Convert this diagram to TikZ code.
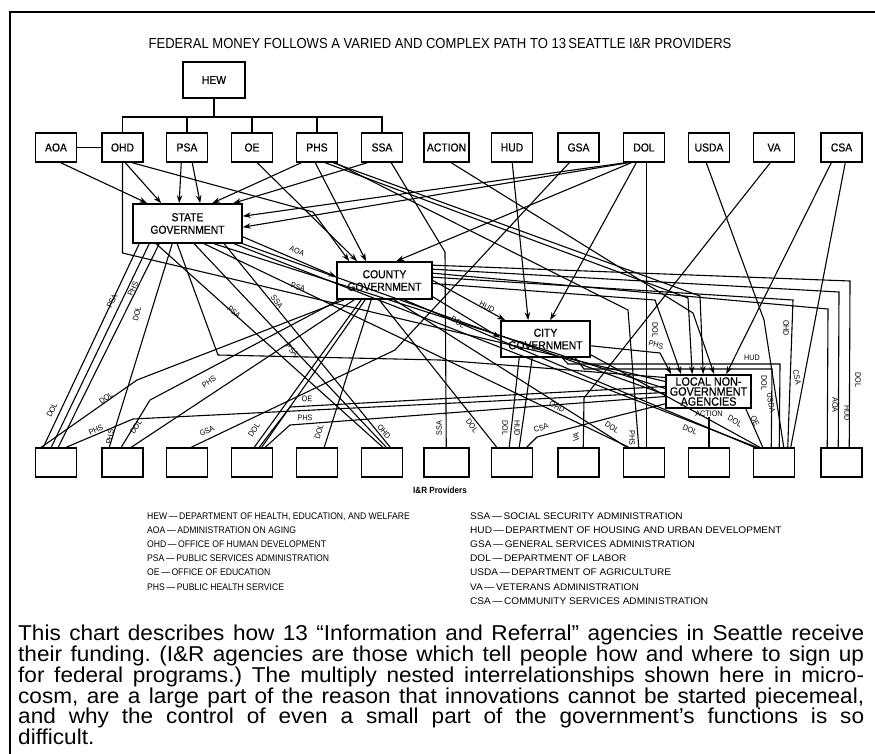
\documentclass[tikz,border=0pt]{standalone}
\usepackage{fontspec}
\setmainfont{Liberation Sans}
\newfontfamily\cf{Liberation Sans}[FakeStretch=0.9]
\newfontfamily\cfb{Liberation Sans}[FakeStretch=0.9,FakeBold=0.6]
\newfontfamily\cfw{Liberation Sans}[FakeStretch=1.05]
\newfontfamily\capf{Liberation Sans}[FakeStretch=1.05]
\usetikzlibrary{arrows.meta,calc}
\begin{document}
\begin{tikzpicture}[x=1pt,y=-1pt,
  box/.style={draw,line width=1.5pt,minimum width=41pt,minimum height=29pt,inner sep=0pt,font=\cfb\fontsize{11.5}{12}\selectfont},
  gov/.style={draw,line width=1.6pt,inner sep=0pt,align=center,font=\cfb\fontsize{11.5}{12.5}\selectfont},
  ln/.style={line width=1.1pt},
  ar/.style={ln,-{Stealth[length=8pt,width=5.5pt]}},
  lab/.style={inner sep=0pt,font=\cf\fontsize{8}{8}\selectfont},
  leg/.style={inner sep=0pt,anchor=base west,font=\cf\fontsize{9.6}{10}\selectfont},
  legr/.style={inner sep=0pt,anchor=base west,font=\cfw\fontsize{9.6}{10}\selectfont},
]
\useasboundingbox (0,0) rectangle (875,753);
\draw[line width=1.4pt] (10,760) -- (10,12) -- (880,12);
\node[font=\cf\fontsize{14.5}{16}\selectfont] (title) at (440,44) {FEDERAL MONEY FOLLOWS A VARIED AND COMPLEX PATH TO 13\,SEATTLE I\&R PROVIDERS};

% top row
\node[box,minimum width=62pt,minimum height=36pt] (hew) at (214,80) {HEW};
\node[box] (aoa) at (56,147.5) {AOA};
\node[box] (ohd) at (122.5,147.5) {OHD};
\node[box] (psa) at (187,147.5) {PSA};
\node[box] (oe) at (252,147.5) {OE};
\node[box] (phs) at (317,147.5) {PHS};
\node[box] (ssa) at (382,147.5) {SSA};
\node[box,minimum width=45pt] (action) at (446.5,147.5) {ACTION};
\node[box] (hud) at (512,147.5) {HUD};
\node[box] (gsa) at (578.5,147.5) {GSA};
\node[box] (dol) at (644,147.5) {DOL};
\node[box] (usda) at (709,147.5) {USDA};
\node[box] (va) at (774,147.5) {VA};
\node[box] (csa) at (841.5,147.5) {CSA};
% bottom row
\foreach \n/\x in {b1/56,b2/122.5,b3/187,b4/252,b5/317,b6/382,b8/512,b9/578.5,b10/644,b11/709,b12/774,b13/841.5}
  \node[box] (\n) at (\x,462.5) {};
\node[box,minimum width=45pt] (b7) at (446.5,462.5) {};
\node[font=\cf\bfseries\fontsize{9}{9}\selectfont] (irp) at (440,490) {I\&R Providers};

% governments
\node[gov,minimum width=109pt,minimum height=39pt] (st) at (187.5,223.5) {STATE\\GOVERNMENT};
\node[gov,minimum width=95pt,minimum height=37pt] (co) at (384.5,280.5) {COUNTY\\GOVERNMENT};
\node[gov,minimum width=89pt,minimum height=36pt] (ci) at (545.5,339) {CITY\\GOVERNMENT};
\node[gov,minimum width=85pt,minimum height=33pt,font=\cfb\fontsize{12}{10}\selectfont] (lng) at (708.5,391.5) {LOCAL NON-\\GOVERNMENT\\AGENCIES};

% HEW bus
\coordinate (bus) at (214,117);
\draw[ln] (hew.south) -- (bus);
\draw[ln] (ohd.north) |- (bus) -| (ssa.north);
\foreach \n in {psa,oe,phs} \draw[ln] (\n.north) -- (\n.north |- bus);
\draw[ln] (aoa.east) -- (ohd.west);

% arrows into State
\draw[ar] ([xshift=26]aoa.south west) -- ([xshift=15]st.north west);
\draw[ar] ([xshift=24]ohd.south west) -- ([xshift=29]st.north west);
\draw[ar] ([xshift=15.5]psa.south west) -- ([xshift=47]st.north west);
\draw[ar] ([xshift=26.5]psa.south west) -- ([xshift=68]st.north west);
\draw[ar] ([xshift=5.5]phs.south west) -- ([xshift=80]st.north west);
\draw[ar] ([xshift=6.5]ssa.south west) -- ([xshift=101]st.north west);
\draw[ar] ([xshift=2.5]dol.south west) -- ([yshift=-13]st.north east);
\draw[ar] ([xshift=5.5]dol.south west) -- ([yshift=-24]st.north east);

% arrows into County
\draw[ar] ([xshift=31]ohd.south west) -- (313,212) -- ([xshift=13]co.north west);
\draw[ar] ([xshift=26.5]oe.south west) -- ([xshift=21]co.north west);
\draw[ar] ([xshift=19.5]phs.south west) -- ([xshift=30]co.north west);
\draw[ar] ([xshift=8.5]dol.south west) -- ([xshift=60]co.north west);
\draw[ar] ([yshift=7]st.south east) -- ([yshift=23]co.south west);
\node[lab,rotate=-23] (l1) at (297,251) {AOA};

% arrows into City
\draw[ar] ([xshift=21.5]hud.south west) -- ([xshift=28]ci.north west);
\draw[ar] ([xshift=13.5]dol.south west) -- ([xshift=50]ci.north west);
\draw[ar] ([yshift=3]co.south east) -- ([yshift=20]ci.south west);
\draw[ar] (co.east) -- ([xshift=5]ci.north west);
\node[lab,rotate=-31] (l2) at (458,322) {DOL};
\node[lab,rotate=-27] (l3) at (487,307) {HUD};

% arrows into LNGA
\draw[ar] ([yshift=12]ci.south east) -- (660,353) -- ([xshift=6]lng.north west);
\node[lab,rotate=-15] (l4) at (656,345) {PHS};
\draw[ar] ([yshift=-3]co.east) -- (655,300) -- ([xshift=16]lng.north west);
\draw[ar] ([xshift=29.5]phs.south west) -- (688,298) -- ([xshift=27]lng.north west);
\draw[ar] ([xshift=37.5]phs.south west) -- (700,296) -- ([xshift=38]lng.north west);
\draw[ar] ([xshift=28]action.south west) -- (693,313) -- ([xshift=49]lng.north west);
\draw[ar] ([xshift=11]csa.south west) -- ([xshift=61]lng.north west);

% County to right-hand providers
\draw[ln] ([yshift=-4]co.north east) -- (850,281) -- ([xshift=29]b13.north west);
\draw[ln] ([yshift=-8]co.north east) -- (839,292) -- ([xshift=18]b13.north west);
\draw[ln] ([yshift=-12]co.north east) -- (828,309) -- ([xshift=7]b13.north west);
\draw[ln] ([yshift=-16]co.north east) -- (793,300) -- ([xshift=35]b12.north west);
\node[lab,rotate=-90] (l5) at (858,380) {DOL};
\node[lab,rotate=-90] (l6) at (847,413) {HUD};
\node[lab,rotate=-90] (l7) at (835,405) {AOA};
\node[lab,rotate=-90] (l8) at (786,328) {OHD};

% City to B12
\draw[ln] ([xshift=62]ci.south west) -- (568,364) -- (780,364) -- ([xshift=26.5]b12.north west);
\node[lab] (l9) at (752,358) {HUD};
\draw[ln] ([xshift=75]ci.south west) -- (584,369) -- (772,369) -- ([xshift=18.5]b12.north west);
\node[lab,rotate=-90] (l10) at (764,383) {DOL};
\draw[ln] ([yshift=3]ci.south east) -- ([xshift=7]b12.north west);
\node[lab,rotate=-29] (l11) at (735,421) {DOL};

% federal agencies direct to providers
\draw[ln] ([xshift=18.5]usda.south west) -- (764,320) -- ([xshift=31]b12.north west);
\node[lab,rotate=-80] (l12) at (771,403) {USDA};
\draw[ln] ([xshift=25]csa.south west) -- ([xshift=38]b12.north west);
\node[lab,rotate=-79] (l13) at (797,377) {CSA};
\draw[ln] ([xshift=17.5]va.south west) -- (584,398) -- ([xshift=26]b9.north west);
\node[lab,rotate=90] (l14) at (576,437) {VA};
\draw[ln] ([xshift=23.5]dol.south west) -- ([xshift=23.5]b10.north west);
\node[lab,rotate=-90] (l15) at (655,330) {DOL};
\draw[ln] ([xshift=12]gsa.south west) -- (395,350) -- ([xshift=25.5]b3.north west);
\node[lab,rotate=27] (l16) at (207,431) {GSA};
\draw[ln] ([xshift=30.5]ssa.south west) -- (445,252) -- ([xshift=23]b7.north west);
\node[lab,rotate=90] (l17) at (439,428) {SSA};
\draw[ln] ([xshift=39.5]phs.south west) -- (628,310) -- ([xshift=16]b10.north west);
\node[lab,rotate=-90] (l18) at (632,438) {PHS};

% LNGA to providers
\node[lab] (actl) at (709,414) {ACTION};
\draw[ln] (actl.south) -- (b11.north);
\draw[ln] ([xshift=-6]lng.south east) -- ([xshift=10]b12.north west);
\node[lab,rotate=-65] (l19) at (755,421) {OE};
\draw[ln] ([yshift=5]lng.south west) -- (613,417) -- (537,437) -- ([xshift=36]b8.north west);
\node[lab,rotate=18] (l20) at (541,428) {CSA};

% State to left providers
\draw[ln] ([xshift=7]st.south west) -- ([xshift=8.5]b1.north west);
\draw[ln] ([xshift=17]st.south west) -- ([xshift=16.5]b1.north west);
\draw[ln] ([xshift=27]st.south west) -- ([xshift=23.5]b1.north west);
\draw[ln] ([xshift=40]st.south west) -- ([xshift=8]b2.north west);
\node[lab,rotate=64] (l21) at (112,301) {PSA};
\node[lab,rotate=64] (l22) at (133,289) {PHS};
\node[lab,rotate=76] (l23) at (137,314) {DOL};
\node[lab,rotate=80] (l24) at (110,437) {PHS};
\node[lab,rotate=64] (l25) at (52,410) {DOL};

% State to B6
\draw[ln] ([xshift=24]st.south west) -- ([xshift=22]b6.north west);
\draw[ln] ([xshift=62]st.south west) -- ([xshift=25.5]b6.north west);
\draw[ln] ([xshift=92]st.south west) -- ([xshift=29.5]b6.north west);
\node[lab,rotate=-42] (l26) at (234,312) {PSA};
\node[lab,rotate=-48] (l27) at (292,350) {PSA};
\node[lab,rotate=-53] (l28) at (277,302) {SSA};
\node[lab,rotate=-50] (l29) at (384,432) {OHD};

% OHD and State lines to LNGA and far right
\draw[ln] (ohd.south) -- (122.5,253) -- ([yshift=10]lng.west);
\node[lab,rotate=-14] (l30) at (298,287) {PSA};
\draw[ln] ([xshift=45]st.south west) -- (218,355) -- (440,360) -- ([yshift=14]lng.west);
\draw[ln] ([xshift=72]st.south west) -- ([xshift=6]b10.north west);
\node[lab,rotate=-26] (l31) at (557,407) {OHD};
\draw[ln] ([xshift=102]st.south west) -- ([xshift=4]b12.north west);
\draw[ln] ([xshift=82]st.south west) -- ([yshift=3]lng.west);
\draw[ln] (st.south east) -- ([yshift=-3]lng.west);

% providers to LNGA
\draw[ln] ([xshift=31.5]b1.north west) -- (133,419) -- ([yshift=-1]lng.west);
\node[lab,rotate=24] (l32) at (96,430) {PHS};
\draw[ln] ([xshift=28.5]b4.north west) -- (290,407) -- ([yshift=5]lng.west);
\node[lab,rotate=-3] (l33) at (307,399) {OE};
\draw[ln] ([xshift=34.5]b4.north west) -- (290,425) -- ([yshift=-5]lng.west);
\node[lab,rotate=-3] (l34) at (305,418) {PHS};

% County to providers
\draw[ln] ([xshift=8]co.south west) -- (137,380) -- ([xshift=6.5]b1.north west);
\node[lab,rotate=36] (l35) at (106,398) {DOL};
\draw[ln] ([xshift=18]co.south west) -- ([xshift=30]b2.north west);
\node[lab,rotate=34] (l36) at (209,382) {PHS};
\draw[ln] ([xshift=3]co.south west) -- (150,400) -- ([xshift=20]b2.north west);
\node[lab,rotate=55] (l37) at (136,427) {DOL};
\draw[ln] ([xshift=25]co.south west) -- ([xshift=23.5]b4.north west);
\draw[ln] ([xshift=29]co.south west) -- ([xshift=31]b4.north west);
\node[lab,rotate=56] (l38) at (254,430) {DOL};
\draw[ln] ([xshift=35]co.south west) -- ([xshift=28.5]b5.north west);
\node[lab,rotate=74] (l39) at (319,432) {DOL};
\draw[ln] ([xshift=43]co.south west) -- ([xshift=6]b8.north west);
\node[lab,rotate=-52] (l40) at (472,426) {DOL};
\draw[ln] ([xshift=58]co.south west) -- ([xshift=4]b10.north west);
\node[lab,rotate=-33] (l41) at (612,427) {DOL};
\draw[ln] ([xshift=68]co.south west) -- ([xshift=1.5]b12.north west);
\node[lab,rotate=-23] (l42) at (690,430) {DOL};

% City to B8
\draw[ln] ([xshift=19]ci.south west) -- ([xshift=18.5]b8.north west);
\draw[ln] ([xshift=32]ci.south west) -- ([xshift=28.5]b8.north west);
\node[lab,rotate=-90] (l43) at (505,428) {DOL};
\node[lab,rotate=-90] (l44) at (517,428) {HUD};

% legend
\node[leg] (g1) at (147,519) {HEW\,—\,DEPARTMENT OF HEALTH, EDUCATION, AND WELFARE};
\node[leg] (g2) at (147,533) {AOA\,—\,ADMINISTRATION ON AGING};
\node[leg] (g3) at (147,547) {OHD\,—\,OFFICE OF HUMAN DEVELOPMENT};
\node[leg] (g4) at (147,561) {PSA\,—\,PUBLIC SERVICES ADMINISTRATION};
\node[leg] (g5) at (147,575) {OE\,—\,OFFICE OF EDUCATION};
\node[leg] (g6) at (147,590) {PHS\,—\,PUBLIC HEALTH SERVICE};
\node[legr] (g7) at (470,519) {SSA\,—\,SOCIAL SECURITY ADMINISTRATION};
\node[legr] (g8) at (470,533) {HUD\,—\,DEPARTMENT OF HOUSING AND URBAN DEVELOPMENT};
\node[legr] (g9) at (470,547) {GSA\,—\,GENERAL SERVICES ADMINISTRATION};
\node[legr] (g10) at (470,561) {DOL\,—\,DEPARTMENT OF LABOR};
\node[legr] (g11) at (470,575) {USDA\,—\,DEPARTMENT OF AGRICULTURE};
\node[legr] (g12) at (470,590) {VA\,—\,VETERANS ADMINISTRATION};
\node[legr] (g13) at (470,604) {CSA\,—\,COMMUNITY SERVICES ADMINISTRATION};

% caption
\node[anchor=north west,inner sep=0pt,text width=846pt,align=justify,font=\capf\fontsize{21.5}{20.8}\selectfont] (cap) at (18,625)
{\frenchspacing This chart describes how 13 “Information and Referral” agencies in Seattle receive\break
their funding. (I\&R agencies are those which tell people how and where to sign up\break
for federal programs.) The multiply nested interrelationships shown here in micro-\break
cosm, are a large part of the reason that innovations cannot be started piecemeal,\break
and why the control of even a small part of the government’s functions is so\break
difficult.};
\end{tikzpicture}
\end{document}
